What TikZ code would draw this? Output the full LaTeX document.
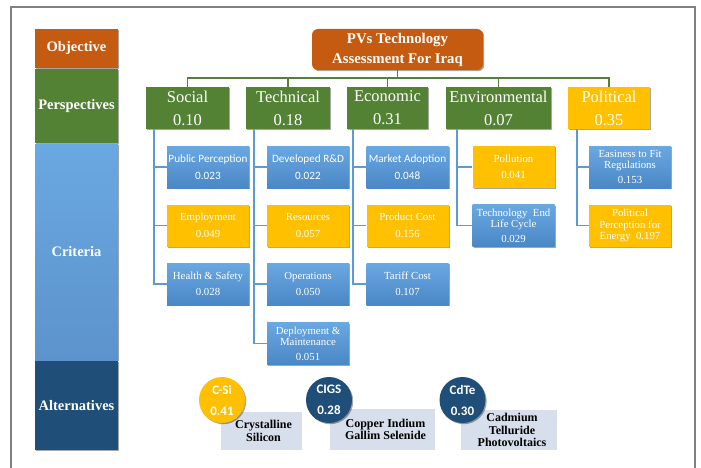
\documentclass[tikz,border=0pt]{standalone}
\usepackage{fontspec}
\setmainfont{Liberation Serif}
\newfontfamily\calib{Carlito}
\usetikzlibrary{shadows,calc}
\definecolor{org}{HTML}{C55A11}
\definecolor{grn}{HTML}{548235}
\definecolor{yel}{HTML}{FFC000}
\definecolor{blueT}{HTML}{6AA8E2}
\definecolor{blueB}{HTML}{4A87C6}
\definecolor{dkb}{HTML}{1F4E79}
\definecolor{lbl}{HTML}{D7DFEC}
\definecolor{frm}{HTML}{808080}
\definecolor{lineb}{HTML}{5B9BD5}
\tikzset{
  shad/.style={drop shadow={shadow xshift=1.2pt,shadow yshift=-1.2pt,opacity=0.35,fill=black}},
  side/.style={shad,minimum width=83pt,inner sep=0pt,text=white,font=\bfseries\fontsize{14.5}{16}\selectfont},
  persp/.style={shad,minimum height=42pt,inner sep=0pt,text=white,align=center,font=\fontsize{16.5}{23}\selectfont},
  crit/.style={shad,minimum width=82pt,minimum height=42pt,inner sep=1pt,align=center,text=white,font=\fontsize{10.8}{11.5}\selectfont},
  cb/.style={crit,top color=blueT,bottom color=blueB},
  cy/.style={crit,fill=yel},
  cal/.style={font=\calib\fontsize{11.2}{11.5}\selectfont},
  gl/.style={draw=grn,line width=1.5pt},
  bl/.style={draw=lineb,line width=1.3pt},
  alt/.style={circle,minimum size=46pt,inner sep=0pt,text=white,align=center,font=\calib\bfseries\fontsize{13}{21}\selectfont},
  lab/.style={fill=lbl,inner sep=0pt,align=center,font=\bfseries\fontsize{12}{12.5}\selectfont}
}
\begin{document}
\begin{tikzpicture}[x=1pt,y=-1pt]
\useasboundingbox (0,0) rectangle (701,468);
\fill[white] (0,0) rectangle (701,468);
\draw[frm,line width=2pt] (11,470) -- (11,7) -- (695,7) -- (695,470);

% left column
\node[side,fill=org,minimum height=39pt] (obj) at (76.5,48.5) {Objective};
\node[side,fill=grn,minimum height=74pt] (per) at (76.5,106) {Perspectives};
\node[side,top color=blueT,bottom color=blueB!90,minimum height=216pt] (cri) at (76.5,252) {Criteria};
\node[side,fill=dkb,minimum height=89pt] (alts) at (76.5,405.5) {Alternatives};

% top node
\node[shad,fill=org,rounded corners=6pt,minimum width=171pt,minimum height=41pt,inner sep=0pt,
  text=white,align=center,font=\bfseries\fontsize{14.8}{20}\selectfont] (top) at (397.5,49.5)
  {PVs Technology\\Assessment For Iraq};

% perspectives
\node[persp,fill=grn,minimum width=83pt] (soc) at (187.5,108) {Social\\0.10};
\node[persp,fill=grn,minimum width=84pt] (tec) at (288,108) {Technical\\0.18};
\node[persp,fill=grn,minimum width=81pt] (eco) at (387.5,108) {Economic\\0.31};
\node[persp,fill=grn,minimum width=105pt] (env) at (498.5,108) {Environmental\\0.07};
\node[persp,fill=yel,minimum width=82pt] (pol) at (609,108) {Political\\0.35};

\coordinate (bus) at (398,78);
\draw[gl] (top.south) -- (top.south |- bus);
\draw[gl] (soc.north) -- (soc.north |- bus) -- (pol.north |- bus) -- (pol.north);
\draw[gl] (tec.north) -- (tec.north |- bus);
\draw[gl] (eco.north) -- (eco.north |- bus);
\draw[gl] (env.north) -- (env.north |- bus);

% criteria - social
\node[cb,cal] (pp) at (208,167) {Public Perception\\[5pt]0.023};
\node[cy] (em) at (208,225.5) {Employment\\[5pt]0.049};
\node[cb] (hs) at (208,284) {Health \& Safety\\[5pt]0.028};
% technical
\node[cb,cal] (rd) at (308,167) {Developed R\&D\\[5pt]0.022};
\node[cy] (rs) at (308,225.5) {Resources\\[5pt]0.057};
\node[cb] (op) at (308,284) {Operations\\[5pt]0.050};
\node[cb] (dm) at (308,343.5) {Deployment \&\\Maintenance\\[3pt]0.051};
% economic
\node[cb,cal] (ma) at (407.5,167) {Market Adoption\\[5pt]0.048};
\node[cy] (pc) at (407.5,225.5) {Product Cost\\[5pt]0.156};
\node[cb] (tc) at (407.5,284) {Tariff Cost\\[5pt]0.107};
% environmental
\node[cy] (po) at (513.5,167) {Pollution\\[5pt]0.041};
\node[cb] (te) at (513.5,225.5) {Technology\ \ End\\Life Cycle\\[3pt]0.029};
% political
\node[cb] (ef) at (630,167) {Easiness to Fit\\Regulations\\[3pt]0.153};
\node[cy] (ppe) at (630,225.5) {Political\\Perception for\\Energy\ \ 0.197};

% criteria connectors
\coordinate (sv) at (154,129);
\draw[bl] (sv) |- (hs.west);
\draw[bl] (sv |- pp.west) -- (pp.west);
\draw[bl] (sv |- em.west) -- (em.west);
\coordinate (tv) at (254,129);
\draw[bl] (tv) |- (dm.west);
\draw[bl] (tv |- rd.west) -- (rd.west);
\draw[bl] (tv |- rs.west) -- (rs.west);
\draw[bl] (tv |- op.west) -- (op.west);
\coordinate (ev) at (353,129);
\draw[bl] (ev) |- (tc.west);
\draw[bl] (ev |- ma.west) -- (ma.west);
\draw[bl] (ev |- pc.west) -- (pc.west);
\coordinate (nv) at (457,129);
\draw[bl] (nv) |- (te.west);
\draw[bl] (nv |- po.west) -- (po.west);
\coordinate (pv) at (577,129);
\draw[bl] (pv) |- (ppe.west);
\draw[bl] (pv |- ef.west) -- (ef.west);

% alternatives
\node[lab,minimum width=81pt,minimum height=38pt] (l1) at (261.5,431) {\hspace*{4pt}Crystalline\\\hspace*{4pt}Silicon};
\node[lab,minimum width=105pt,minimum height=41pt] (l2) at (382.5,429.5) {\hspace*{6pt}Copper Indium\\\hspace*{6pt}Gallim Selenide};
\node[lab,minimum width=96pt,minimum height=40pt] (l3) at (509,430) {\hspace*{6pt}Cadmium\\\hspace*{6pt}Telluride\\\hspace*{6pt}Photovoltaics};
\node[alt,fill=yel,shad] (a1) at (222,400) {C-Si\\0.41};
\node[alt,fill=dkb,shad] (a2) at (329,400) {CIGS\\0.28};
\node[alt,fill=dkb,shad] (a3) at (462.5,400) {CdTe\\0.30};
\end{tikzpicture}
\end{document}
